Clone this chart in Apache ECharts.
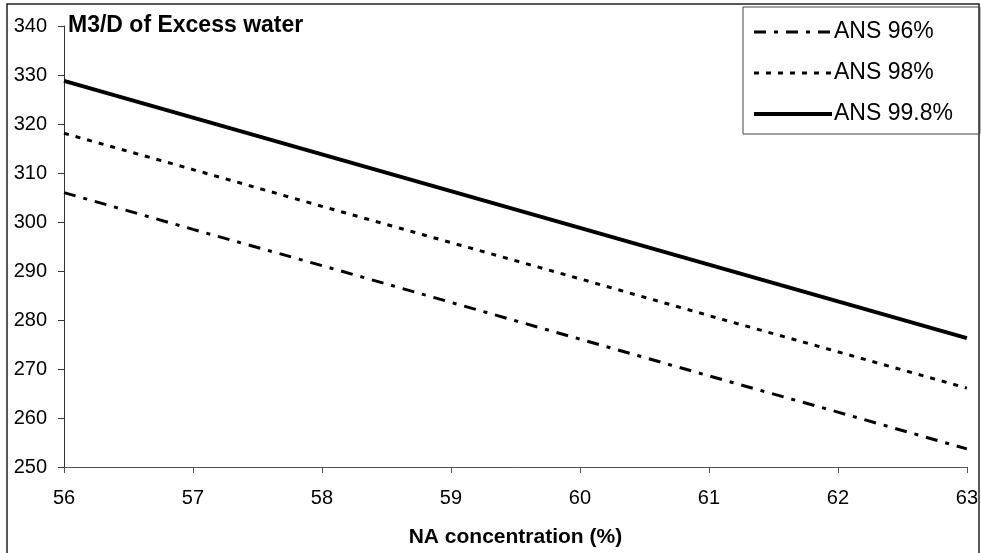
<!DOCTYPE html>
<html>
<head>
<meta charset="utf-8">
<script src="https://cdn.jsdelivr.net/npm/echarts@6/dist/echarts.min.js"></script>
<style>
  html, body { margin: 0; padding: 0; background: #fff; }
  #chart { width: 981px; height: 553px; }
</style>
</head>
<body>
<div id="chart"></div>
<script>
const naConc = [56, 57, 58, 59, 60, 61, 62, 63];
const ans96 = [306.0, 298.5, 291.1, 283.6, 276.1, 268.6, 261.2, 253.7];
const ans98 = [318.1, 310.7, 303.2, 295.8, 288.4, 280.9, 273.5, 266.1];
const ans998 = [328.8, 321.3, 313.8, 306.3, 298.8, 291.3, 283.8, 276.3];

const font = '"Liberation Sans", Arial, sans-serif';

const dashDot = [12, 8, 4, 8];
const dotted = [5, 7];

function pairs(ys) {
  return naConc.map((x, i) => [x, ys[i]]);
}

const chart = echarts.init(document.getElementById('chart'), null, { renderer: 'canvas' });

chart.setOption({
  animation: false,
  backgroundColor: '#fff',
  textStyle: { fontFamily: font, color: '#000' },
  title: {
    text: 'M3/D of Excess water',
    left: 68,
    top: 14,
    padding: 0,
    textStyle: { fontFamily: font, fontSize: 23, fontWeight: 'bold', color: '#000' }
  },
  legend: {
    orient: 'vertical',
    left: 743,
    top: 7,
    padding: [13, 27, 8, 9],
    borderColor: '#444',
    borderWidth: 1,
    itemWidth: 78,
    itemHeight: 14,
    itemGap: 17,
    itemStyle: { opacity: 0 },
    textStyle: { fontFamily: font, fontSize: 23, color: '#000', lineHeight: 24, padding: [0, 0, 0, -3] },
    data: [
      { name: 'ANS 96%', lineStyle: { width: 3, type: dashDot } },
      { name: 'ANS 98%', lineStyle: { width: 3, type: dotted } },
      { name: 'ANS 99.8%', lineStyle: { width: 4, type: 'solid' } }
    ]
  },
  grid: { left: 64, right: 13, top: 26, bottom: 86, containLabel: false },
  xAxis: {
    type: 'value',
    min: 56,
    max: 63,
    interval: 1,
    name: 'NA concentration (%)',
    nameLocation: 'middle',
    nameGap: 60,
    nameTextStyle: { fontFamily: font, fontSize: 21, fontWeight: 'bold', color: '#000' },
    axisLine: { show: true, onZero: false, lineStyle: { color: '#555', width: 1 } },
    axisTick: { show: true, length: 6, lineStyle: { color: '#555' } },
    axisLabel: { fontFamily: font, fontSize: 20, color: '#000', margin: 21 },
    splitLine: { show: false }
  },
  yAxis: {
    type: 'value',
    min: 250,
    max: 340,
    interval: 10,
    axisLine: { show: true, lineStyle: { color: '#333', width: 1 } },
    axisTick: { show: true, length: 6, lineStyle: { color: '#333' } },
    axisLabel: { fontFamily: font, fontSize: 20, color: '#000', margin: 17 },
    splitLine: { show: false }
  },
  series: [
    {
      name: 'ANS 96%',
      type: 'line',
      data: pairs(ans96),
      symbol: 'none',
      color: '#000',
      lineStyle: { color: '#000', width: 3, type: dashDot }
    },
    {
      name: 'ANS 98%',
      type: 'line',
      data: pairs(ans98),
      symbol: 'none',
      color: '#000',
      lineStyle: { color: '#000', width: 3, type: dotted }
    },
    {
      name: 'ANS 99.8%',
      type: 'line',
      data: pairs(ans998),
      symbol: 'none',
      color: '#000',
      lineStyle: { color: '#000', width: 4, type: 'solid' }
    }
  ],
  graphic: [
    {
      type: 'rect',
      silent: true,
      shape: { x: 7, y: 4, width: 972, height: 600 },
      style: { fill: 'none', stroke: '#222', lineWidth: 1.5 }
    }
  ]
});
</script>
</body>
</html>
